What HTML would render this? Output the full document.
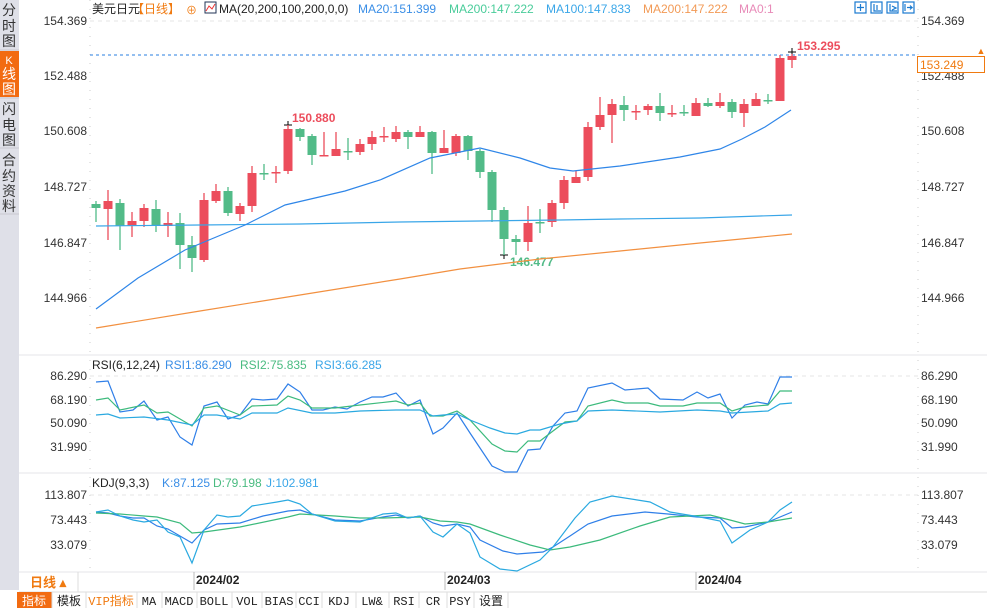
<!DOCTYPE html>
<html><head><meta charset="utf-8"><style>
body{margin:0;width:987px;height:608px;overflow:hidden;background:#fff;font-family:"Liberation Sans","Noto Sans CJK SC",sans-serif;}
svg{position:absolute;left:0;top:0}
</style></head><body>
<svg id="s" width="987" height="608" xmlns="http://www.w3.org/2000/svg" font-family="Liberation Sans, Noto Sans CJK SC, sans-serif">
<rect x="0" y="0" width="19" height="590" fill="#dfe0e8"/>
<rect x="0" y="51" width="19" height="46" fill="#f26b11"/>
<line x1="0" y1="50" x2="19" y2="50" stroke="#c8c8d0"/><line x1="0" y1="98" x2="19" y2="98" stroke="#c8c8d0"/><line x1="0" y1="148" x2="19" y2="148" stroke="#c8c8d0"/><line x1="0" y1="214" x2="19" y2="214" stroke="#c8c8d0"/>
<g font-size="14" fill="#333" text-anchor="middle">
<text x="9" y="15">分</text><text x="9" y="31">时</text><text x="9" y="46">图</text>
<text x="9" y="64" fill="#fff" font-size="11">K</text><text x="9" y="79" fill="#fff">线</text><text x="9" y="94" fill="#fff">图</text>
<text x="9" y="114">闪</text><text x="9" y="130">电</text><text x="9" y="145">图</text>
<text x="9" y="165">合</text><text x="9" y="181">约</text><text x="9" y="196">资</text><text x="9" y="211">料</text>
</g>
<line x1="90" y1="0" x2="90" y2="572" stroke="#ccc" stroke-dasharray="1,8"/>
<line x1="918" y1="0" x2="918" y2="572" stroke="#ccc" stroke-dasharray="1,8"/>
<line x1="19" y1="355" x2="987" y2="355" stroke="#e4e4e8"/>
<line x1="19" y1="473" x2="987" y2="473" stroke="#e4e4e8"/>
<line x1="19" y1="572" x2="987" y2="572" stroke="#e4e4e8"/>
<g stroke="#e6e6e6" stroke-dasharray="4,4"><line x1="90" y1="21" x2="918" y2="21"/><line x1="90" y1="376" x2="918" y2="376"/><line x1="90" y1="495" x2="918" y2="495"/></g>
<line x1="90" y1="55" x2="918" y2="55" stroke="#2a7fe0" stroke-dasharray="3,3"/>
<g font-size="12" fill="#222">
<text x="92" y="13">美元日元</text><text x="132" y="13" fill="#f07a10">【日线】</text><text x="186" y="14" fill="#f07a10" font-size="11">⊕</text>
<rect x="205" y="2" width="11" height="11" fill="#fff" stroke="#235" stroke-width="1"/><polyline points="206,11 209,6 212,9 215,4" fill="none" stroke="#e33"/>
<text x="219" y="13">MA(20,200,100,200,0,0)</text><text x="358" y="13" fill="#3a8ee6">MA20:151.399</text><text x="449" y="13" fill="#49cc9a">MA200:147.222</text><text x="546" y="13" fill="#3aa6e8">MA100:147.833</text><text x="643" y="13" fill="#f29a56">MA200:147.222</text><text x="739" y="13" fill="#e88ab8">MA0:1</text>
<text x="92" y="369">RSI(6,12,24)</text><text x="165" y="369" fill="#3a8ee6">RSI1:86.290</text><text x="240" y="369" fill="#49bb80">RSI2:75.835</text><text x="315" y="369" fill="#3aa6e8">RSI3:66.285</text>
<text x="92" y="487">KDJ(9,3,3)</text><text x="162" y="487" fill="#3a8ee6">K:87.125</text><text x="213" y="487" fill="#49bb80">D:79.198</text><text x="266" y="487" fill="#3aa6e8">J:102.981</text>
</g>
<g font-size="12" fill="#333" text-anchor="end">
<text x="87" y="25">154.369</text><text x="87" y="80">152.488</text><text x="87" y="135">150.608</text><text x="87" y="191">148.727</text><text x="87" y="247">146.847</text><text x="87" y="302">144.966</text>
<text x="87" y="380">86.290</text><text x="87" y="404">68.190</text><text x="87" y="427">50.090</text><text x="87" y="451">31.990</text>
<text x="87" y="499">113.807</text><text x="87" y="524">73.443</text><text x="87" y="549">33.079</text>
</g>
<g font-size="12" fill="#333">
<text x="921" y="25">154.369</text><text x="921" y="80">152.488</text><text x="921" y="135">150.608</text><text x="921" y="191">148.727</text><text x="921" y="247">146.847</text><text x="921" y="302">144.966</text>
<text x="921" y="380">86.290</text><text x="921" y="404">68.190</text><text x="921" y="427">50.090</text><text x="921" y="451">31.990</text>
<text x="921" y="499">113.807</text><text x="921" y="524">73.443</text><text x="921" y="549">33.079</text>
</g>
<rect x="917.5" y="56.5" width="67" height="16" fill="#fff" stroke="#f07a10"/>
<text x="920" y="69" font-size="12" fill="#f07a10">153.249</text>
<text x="981" y="54" font-size="9" fill="#f07a10" text-anchor="middle">▲</text>
<g fill="none" stroke="#1a7ad0" stroke-width="1.2">
<rect x="855" y="2" width="11" height="11"/><rect x="871" y="2" width="11" height="11"/><rect x="887" y="2" width="11" height="11"/><rect x="903" y="2" width="11" height="11"/>
<path d="M860.5 4v7M857 7.5h7M874 4v7h7M877 5v5M890 4v7h7M892 6l4 2-4 2M905 4v7M907 7.5h5l-2-2M912 7.5l-2 2"/>
</g>
<text x="292" y="122" font-size="12" font-weight="bold" fill="#ec4d5c">150.880</text>
<text x="510" y="266" font-size="12" font-weight="bold" fill="#52bb88">146.477</text>
<text x="797" y="50" font-size="12" font-weight="bold" fill="#ec4d5c">153.295</text>
<g stroke="#000"><path d="M284 125h8M288 121v8M500 255h8M504 251v8M788 52h8M792 48v8"/></g>
<g id="c"></g>
<g fill="none" stroke-width="1.2">
<polyline stroke="#f29040" points="96,328 200,311 300,295 400,279 460,269 540,259 620,251 700,243 792,234"/>
<polyline stroke="#3aa6e8" points="96,226 200,225 300,224 400,222 480,221 560,220 620,219 700,218 760,216 792,215"/>
<polyline stroke="#2f86e8" points="96,309 138,278 185,250 245,225 285,205 345,191 380,180 430,158 480,148 520,158 550,168 573,171 620,166 680,157 720,149 742,139 765,127 791,110"/>
<polyline stroke="#2f7fe8" points="96,382 108,381 120,412 133,410 144,401 157,420 168,417 180,437 192,445 204,406 217,402 228,419 240,415 252,399 263,400 277,399 288,384 300,392 312,410 323,410 335,407 347,409 360,402 372,397 383,397 396,393 408,406 420,400 433,434 443,428 457,413 470,433 492,466 505,472 517,472 528,450 540,449 553,426 565,413 577,411 588,388 612,383 625,390 648,388 660,399 683,400 697,392 708,398 720,394 732,418 745,405 757,402 768,404 780,377 792,377"/>
<polyline stroke="#3cba7c" points="96,400 108,398 120,410 144,405 157,413 168,412 192,426 204,408 217,406 240,415 252,406 277,405 288,396 300,400 312,408 335,408 360,405 396,401 408,405 420,403 430,416 443,416 457,411 470,420 492,444 505,451 517,452 528,441 540,441 553,431 565,422 577,421 588,406 612,400 625,403 648,403 660,406 683,406 697,403 720,403 732,411 745,407 768,405 780,391 792,391"/>
<polyline stroke="#2aa9e0" points="96,415 108,414 120,418 144,417 168,420 192,425 204,415 217,415 240,419 252,413 277,413 288,408 312,413 335,413 360,411 396,410 420,410 433,416 443,415 457,414 470,420 490,428 505,433 517,434 530,430 540,430 560,424 577,421 588,411 612,410 660,412 697,410 720,411 732,413 768,411 780,404 792,403"/>
<polyline stroke="#2f7fe8" points="96,512 108,513 120,516 133,518 144,518 157,526 168,529 192,543 204,530 217,524 240,523 263,516 288,511 300,510 312,514 335,520 360,521 383,517 396,515 408,518 420,516 433,523 443,526 457,524 470,527 480,540 503,551 517,554 543,552 553,547 570,536 588,524 612,516 645,512 668,514 697,517 720,518 732,528 745,527 768,522 792,512"/>
<polyline stroke="#3cba7c" points="96,513 120,514 144,516 157,517 180,523 192,533 204,532 240,527 288,517 300,514 335,516 360,518 383,518 420,517 440,521 457,522 470,524 500,535 530,545 550,550 570,547 600,540 640,526 670,517 710,515 730,520 745,524 768,522 792,518"/>
<polyline stroke="#2aa9e0" points="96,512 108,510 120,516 133,520 144,522 157,520 168,532 180,537 192,563 204,530 217,515 228,517 240,516 252,506 277,502 288,500 300,504 312,514 335,521 360,522 383,514 396,513 408,518 420,516 433,532 443,537 457,524 470,533 480,557 500,569 517,571 540,560 553,547 575,518 590,502 612,496 650,502 670,512 700,517 720,521 732,543 750,530 768,522 780,510 792,502"/>
</g>
<line x1="194" y1="572" x2="194" y2="590" stroke="#bbb"/><line x1="445" y1="572" x2="445" y2="590" stroke="#bbb"/><line x1="696" y1="572" x2="696" y2="590" stroke="#bbb"/>
<g font-size="12" font-weight="bold" fill="#222"><text x="196" y="584">2024/02</text><text x="447" y="584">2024/03</text><text x="698" y="584">2024/04</text></g>
<line x1="78" y1="572" x2="78" y2="592" stroke="#ddd"/>
<text x="30" y="587" font-size="13" font-weight="bold" fill="#f07a10">日线 ▴</text>
<line x1="19" y1="592" x2="987" y2="592" stroke="#ddd"/>
<rect x="17" y="592" width="35" height="16" fill="#f26b11"/>
<g font-family="Liberation Mono, Noto Sans CJK SC, monospace" font-size="12" fill="#222" text-anchor="middle">
<text x="34" y="605" fill="#fff">指标</text><text x="69" y="605">模板</text><text x="111" y="605" fill="#f07a10">VIP指标</text><text x="149" y="605">MA</text><text x="179" y="605">MACD</text><text x="214" y="605">BOLL</text><text x="247" y="605">VOL</text><text x="279" y="605">BIAS</text><text x="309" y="605">CCI</text><text x="339" y="605">KDJ</text><text x="372" y="605">LW&amp;</text><text x="404" y="605">RSI</text><text x="433" y="605">CR</text><text x="460" y="605">PSY</text><text x="491" y="605">设置</text>
</g>
<g stroke="#ddd"><path d="M52 592v16M86 592v16M137 592v16M162 592v16M197 592v16M232 592v16M262 592v16M296 592v16M322 592v16M356 592v16M389 592v16M419 592v16M447 592v16M474 592v16M508 592v16"/></g>
</svg>
<script>
var d=[["g",204,208,201,222],["r",201,209,190,240],["g",203,226,199,250],["r",221,226,212,237],["r",208,221,204,227],["g",209,226,200,232],["r",223,226,212,237],["g",223,245,213,269],["g",245,258,236,272],["r",200,260,193,262],["r",191,201,184,203],["g",191,213,187,216],["r",206,214,203,221],["r",173,206,166,212],["g",173,174,164,180],["r",172,173,166,183],["r",129,171,125,174],["g",129,137,128,141],["g",136,155,134,165],["r",155,156,132,156],["r",149,156,132,156],["g",151,152,138,160],["r",144,152,139,155],["r",137,144,131,150],["r",136,137,127,142],["r",132,139,126,142],["g",132,137,130,149],["r",132,137,126,137],["g",132,153,131,174],["r",148,153,130,153],["r",136,153,134,156],["g",136,151,135,160],["g",151,172,149,178],["g",172,210,170,222],["g",210,239,207,255],["g",239,242,235,255],["r",223,242,206,251],["g",222,223,209,233],["r",203,222,200,227],["r",180,203,176,209],["r",177,183,171,183],["r",127,177,122,181],["r",115,127,97,130],["r",104,115,99,143],["g",105,110,96,121],["r",111,112,105,120],["r",106,110,104,115],["g",106,113,93,121],["r",113,114,105,117],["g",112,113,105,116],["r",103,116,98,116],["g",103,106,98,107],["r",102,106,93,108],["g",102,112,99,118],["r",104,113,99,127],["r",99,106,93,106],["g",100,101,94,104],["r",58,101,55,101],["r",56,60,54,68]];
var h="";d.forEach(function(c,i){var x=96+12*i,col=c[0]=="r"?"#ec4d5c":"#52bb88";
h+='<line x1="'+x+'" y1="'+c[3]+'" x2="'+x+'" y2="'+c[4]+'" stroke="'+col+'" stroke-width="1.3"/>';
h+='<rect x="'+(x-4.5)+'" y="'+c[1]+'" width="9" height="'+Math.max(1.5,c[2]-c[1])+'" fill="'+col+'"/>';});
document.getElementById("c").innerHTML=h;
</script>
</body></html>
